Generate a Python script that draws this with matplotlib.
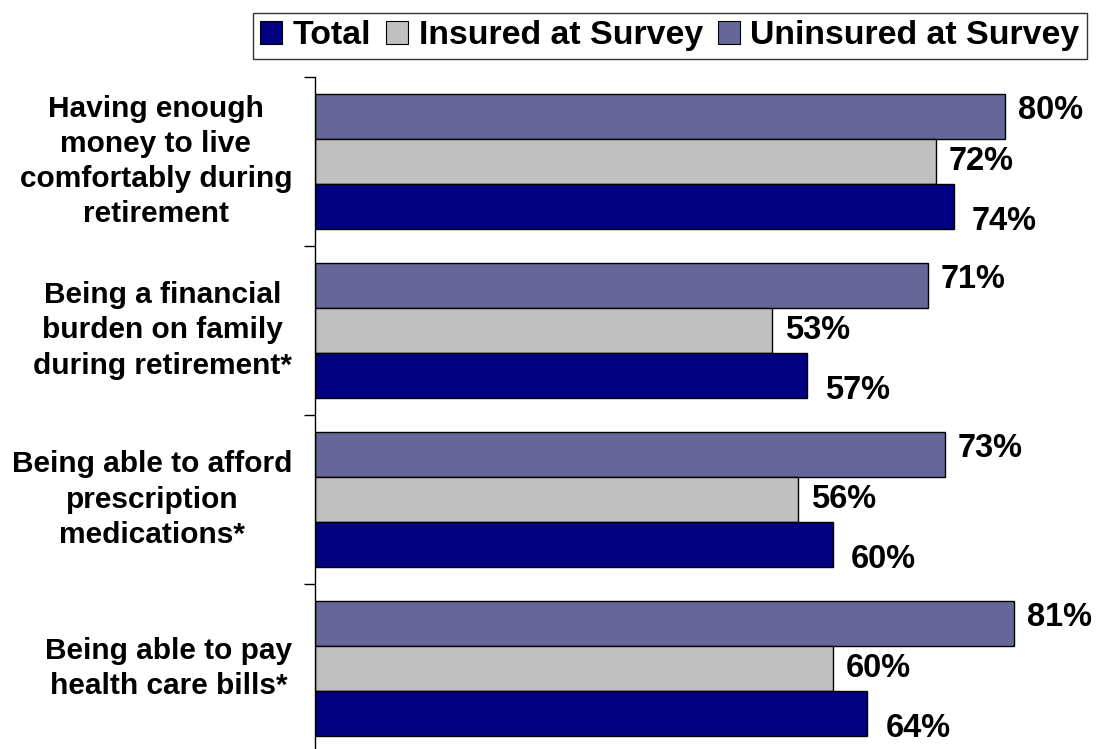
import matplotlib
matplotlib.use("Agg")
import matplotlib.pyplot as plt
from matplotlib.patches import Patch
import matplotlib.transforms as mtransforms

plt.rcParams['font.family'] = ['Liberation Sans', 'DejaVu Sans']
plt.rcParams['font.weight'] = 'bold'

categories = [
    "Having enough\nmoney to live\ncomfortably during\nretirement",
    "Being a financial\nburden on family\nduring retirement*",
    "Being able to afford\nprescription\nmedications*",
    "Being able to pay\nhealth care bills*",
]
series_names = ["Total", "Insured at Survey", "Uninsured at Survey"]
total = [74, 57, 60, 64]
insured = [72, 53, 56, 60]
uninsured = [80, 71, 73, 81]

colors = {"Total": "#000080", "Insured at Survey": "#C0C0C0",
          "Uninsured at Survey": "#666699"}

W, H = 1109, 749
fig = plt.figure(figsize=(W / 100, H / 100), dpi=100)
ax_left, ax_top, ax_bottom = 315, 77, 753
px_per_pct = 8.63
xmax = 90
ax = fig.add_axes([ax_left / W, 1 - ax_bottom / H,
                   xmax * px_per_pct / W, (ax_bottom - ax_top) / H])

bh = 0.8 / 3
pos = list(range(len(categories)))
series = [("Uninsured at Survey", uninsured, -bh),
          ("Insured at Survey", insured, 0.0),
          ("Total", total, bh)]
# label nudges in points (dx, dy) per series
nudge = {"Uninsured at Survey": (9, 4), "Insured at Survey": (9, 0),
         "Total": (13, -11)}
for name, vals, off in series:
    ys = [p + off for p in pos]
    ax.barh(ys, vals, height=bh, color=colors[name], edgecolor='black',
            linewidth=1.0)
    for y, v in zip(ys, vals):
        dx, dy = nudge[name]
        ax.annotate(f"{v}%", xy=(v, y), xytext=(dx, dy),
                    textcoords='offset points', ha='left', va='center',
                    fontsize=23.5, fontweight='bold', color='black',
                    annotation_clip=False)

ax.set_xlim(0, xmax)
ax.set_ylim(len(categories) - 0.5, -0.5)
for s in ['top', 'right', 'bottom']:
    ax.spines[s].set_visible(False)
ax.spines['left'].set_linewidth(1.0)
ax.set_xticks([])
ax.set_yticks([i - 0.5 for i in range(len(categories) + 1)])
ax.set_yticklabels([])
ax.tick_params(axis='y', direction='out', length=8, width=1.0)

trans = mtransforms.blended_transform_factory(fig.transFigure, ax.transData)
for i, cat in enumerate(categories):
    ax.text(292 / W, i, cat, transform=trans, ha='right', va='center',
            multialignment='center', fontsize=21.5, fontweight='bold',
            linespacing=1.33)

handles = [Patch(facecolor=colors[n], edgecolor='black', linewidth=0.8)
           for n in series_names]
leg = fig.legend(handles, series_names, ncol=3, loc='upper right',
                 bbox_to_anchor=(1087 / W, 1 - 13 / H),
                 prop={'size': 24.4, 'weight': 'bold'},
                 frameon=True, fancybox=False, shadow=False,
                 handlelength=0.65, handleheight=0.7, handletextpad=0.3,
                 columnspacing=0.45, borderpad=0.22, borderaxespad=0)
leg.get_frame().set_edgecolor('black')
leg.get_frame().set_linewidth(1.0)

fig.savefig("out.png", dpi=100)
